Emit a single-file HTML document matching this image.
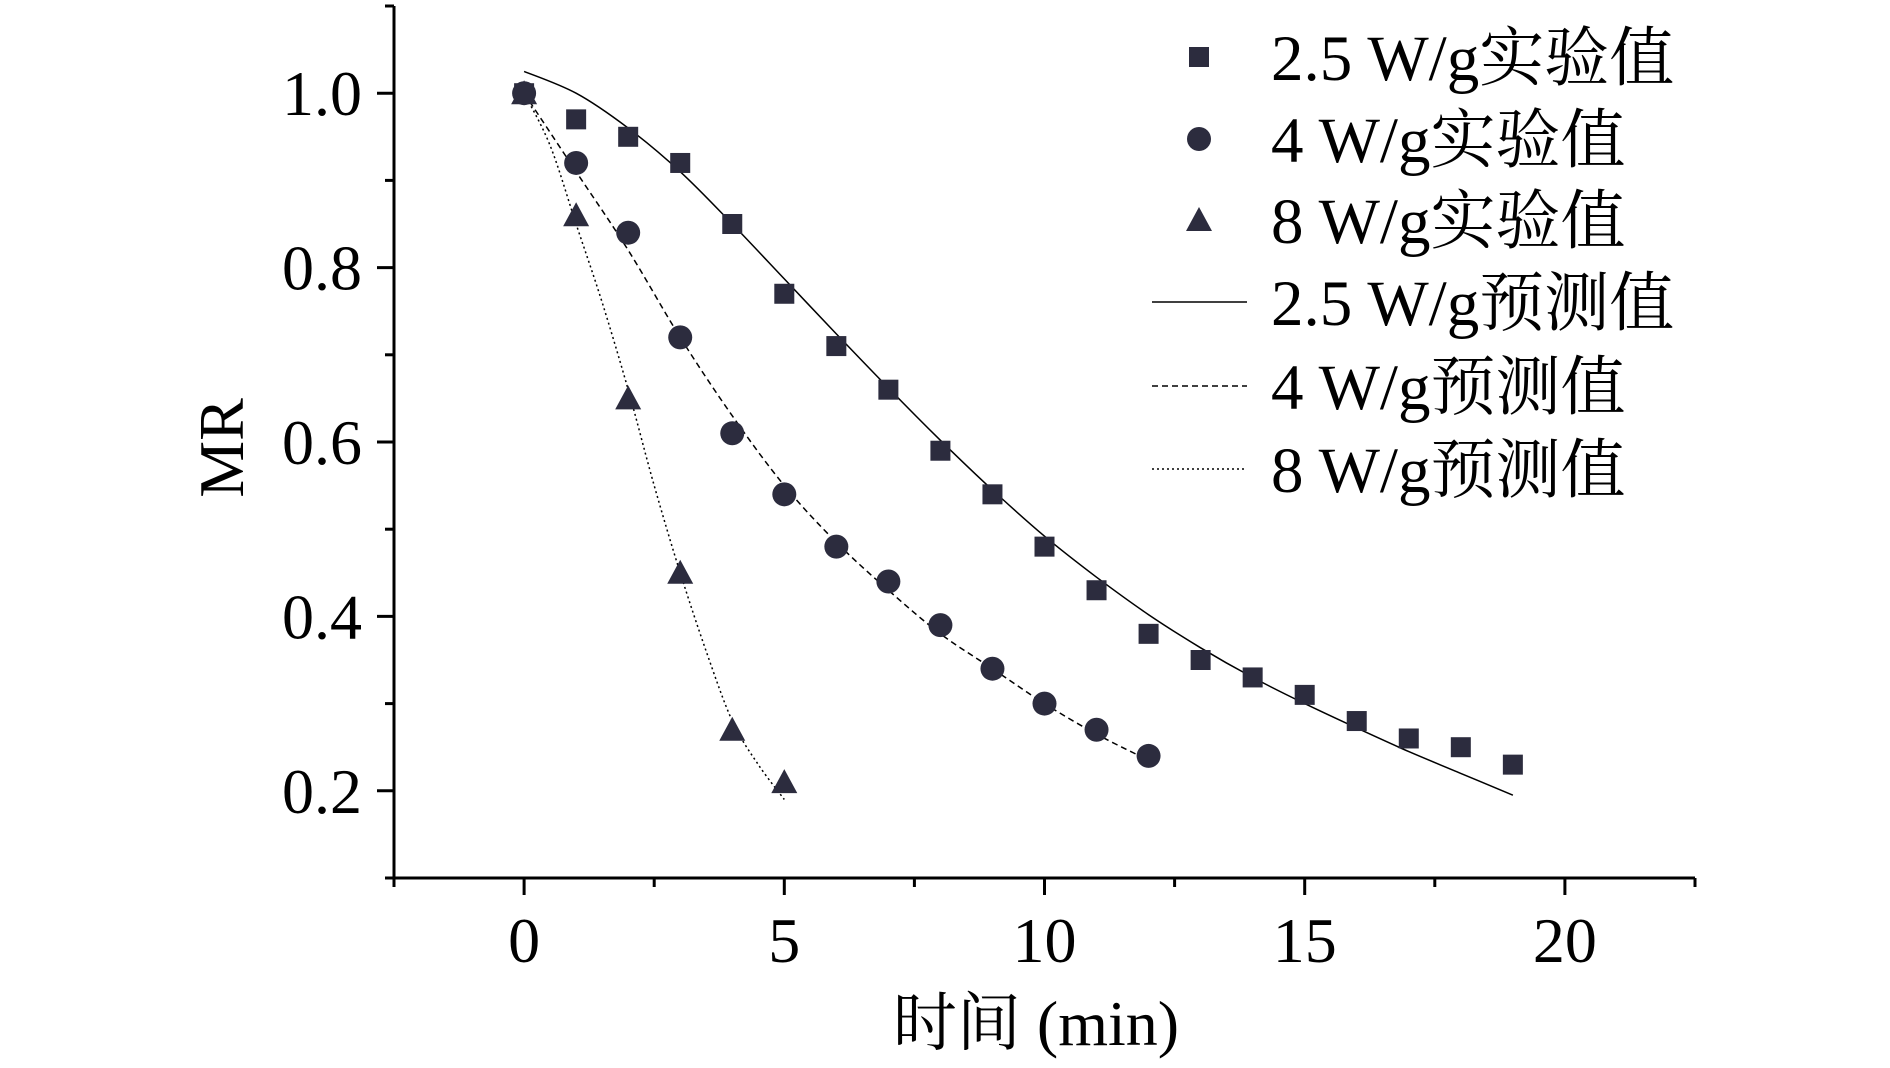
<!DOCTYPE html>
<html><head><meta charset="utf-8"><style>
body{margin:0;background:#fff;}
svg text{font-family:"Liberation Serif","Noto Serif CJK SC",serif;fill:#000;}
</style></head><body>
<svg id="chart" width="1890" height="1063" viewBox="0 0 1890 1063" xmlns="http://www.w3.org/2000/svg">
<g id="axes"></g>
<g id="series"></g>
<g id="legend"></g>
</svg>
<script>
const xTicks=[0,5,10,15,20];
const yTicks=[0.2,0.4,0.6,0.8,1.0];
const t25=[0,1,2,3,4,5,6,7,8,9,10,11,12,13,14,15,16,17,18,19];
const exp25=[1.0,0.97,0.95,0.92,0.85,0.77,0.71,0.66,0.59,0.54,0.48,0.43,0.38,0.35,0.33,0.31,0.28,0.26,0.25,0.23];
const t4=[0,1,2,3,4,5,6,7,8,9,10,11,12];
const exp4=[1.0,0.92,0.84,0.72,0.61,0.54,0.48,0.44,0.39,0.34,0.30,0.27,0.24];
const t8=[0,1,2,3,4,5];
const exp8=[1.0,0.86,0.65,0.45,0.27,0.21];
const pt25=[0,1,2,3,4,5,6,7,8,9,10,11,12,13,14,15,16,17,18,19];
const pred25=[1.025,1.0,0.96,0.91,0.85,0.787,0.724,0.662,0.602,0.545,0.492,0.445,0.402,0.364,0.33,0.3,0.272,0.245,0.22,0.195];
const pt4=[0,1,2,3,4,5,6,7,8,9,10,11,12];
const pred4=[1.0,0.91,0.82,0.72,0.63,0.55,0.485,0.43,0.38,0.34,0.30,0.265,0.235];
const pt8=[0,0.5,1,1.5,2,2.5,3,3.5,4,4.5,5];
const pred8=[1.0,0.94,0.85,0.76,0.66,0.55,0.45,0.36,0.28,0.23,0.19];

const NS="http://www.w3.org/2000/svg";
const X0=394,X1=1695,Y0=878,Y1=6,XMIN=-2.5,XMAX=22.5,YMIN=0.1,YMAX=1.1;
const xs=v=>X0+(v-XMIN)/(XMAX-XMIN)*(X1-X0);
const ys=v=>Y0-(v-YMIN)/(YMAX-YMIN)*(Y0-Y1);
function mk(tag,attrs,parent){const e=document.createElementNS(NS,tag);for(const k in attrs)e.setAttribute(k,attrs[k]);parent.appendChild(e);return e;}
const axes=document.getElementById('axes'),series=document.getElementById('series'),legend=document.getElementById('legend');
const C='#2c2c3e';
let e;
e=mk('line',{x1:X0,y1:Y0,x2:X1,y2:Y0,stroke:'#000','stroke-width':3},axes);

e=mk('line',{x1:X0,y1:Y0,x2:X0,y2:Y1,stroke:'#000','stroke-width':3},axes);

for(let v=-2.5;v<=22.51;v+=2.5){const major=Math.abs(v/5-Math.round(v/5))<1e-6;
 e=mk('line',{x1:xs(v),y1:Y0,x2:xs(v),y2:Y0+(major?17:9),stroke:'#000','stroke-width':3},axes);
 }
for(let v=0.1;v<=1.101;v+=0.1){const major=Math.round(v*10)%2===0;
 e=mk('line',{x1:X0,y1:ys(v),x2:X0-(major?17:9),y2:ys(v),stroke:'#000','stroke-width':3},axes);
 }
xTicks.forEach(v=>{e=mk('text',{x:xs(v),y:962,'font-size':64,'text-anchor':'middle'},axes);e.textContent=v;
 });
yTicks.forEach(v=>{e=mk('text',{x:362,y:ys(v)+22,'font-size':64,'text-anchor':'end'},axes);e.textContent=v.toFixed(1);
 });
e=mk('text',{x:1036,y:1045,'font-size':64,'text-anchor':'middle'},axes);e.textContent='时间 (min)';

e=mk('text',{x:0,y:0,'font-size':64,'text-anchor':'middle',transform:'translate(243,448) rotate(-90)'},axes);e.textContent='MR';


function line(tx,vals,dash,name){
 const P=tx.map((t,i)=>[xs(t),ys(vals[i])]);
 let d='M'+P[0][0].toFixed(1)+','+P[0][1].toFixed(1);
 for(let i=0;i<P.length-1;i++){const p0=P[Math.max(0,i-1)],p1=P[i],p2=P[i+1],p3=P[Math.min(P.length-1,i+2)];
  const c1=[p1[0]+(p2[0]-p0[0])/6,p1[1]+(p2[1]-p0[1])/6],c2=[p2[0]-(p3[0]-p1[0])/6,p2[1]-(p3[1]-p1[1])/6];
  d+='C'+c1[0].toFixed(1)+','+c1[1].toFixed(1)+' '+c2[0].toFixed(1)+','+c2[1].toFixed(1)+' '+p2[0].toFixed(1)+','+p2[1].toFixed(1);}
 const p=mk('path',{d:d,fill:'none',stroke:'#000','stroke-width':1.5,'stroke-dasharray':dash},series);
 }
line(pt25,pred25,'none','line-2.5wg-predicted');
line(pt4,pred4,'6,4','line-4wg-predicted');
line(pt8,pred8,'2,3','line-8wg-predicted');
function marker(type,cx,cy,parent){let m;
 if(type==='sq')m=mk('rect',{x:cx-10,y:cy-10,width:20,height:20,fill:C},parent);
 else if(type==='ci')m=mk('circle',{cx:cx,cy:cy,r:12,fill:C},parent);
 else m=mk('polygon',{points:`${cx},${cy-13} ${cx-13},${cy+11} ${cx+13},${cy+11}`,fill:C},parent);
 return m;}
t25.forEach((t,i)=>{const m=marker('sq',xs(t),ys(exp25[i]),series);});
t4.forEach((t,i)=>{const m=marker('ci',xs(t),ys(exp4[i]),series);});
t8.forEach((t,i)=>{const m=marker('tr',xs(t),ys(exp8[i]),series);});

const legLabels=['2.5 W/g实验值','4 W/g实验值','8 W/g实验值','2.5 W/g预测值','4 W/g预测值','8 W/g预测值'];
const legTypes=['sq','ci','tr','none','6,4','2,3'];
const legY=[57,139,220,302,386,469];
legLabels.forEach((lab,i)=>{const y=legY[i];
 if(i<3){const m=marker(legTypes[i],1199,y,legend);}
 else{const l=mk('line',{x1:1152,y1:y,x2:1247,y2:y,stroke:'#000','stroke-width':1.5,'stroke-dasharray':legTypes[i]},legend);
  }
 const t=mk('text',{x:1271,y:y+23,'font-size':65},legend);t.textContent=lab;
 });
</script>
</body></html>
